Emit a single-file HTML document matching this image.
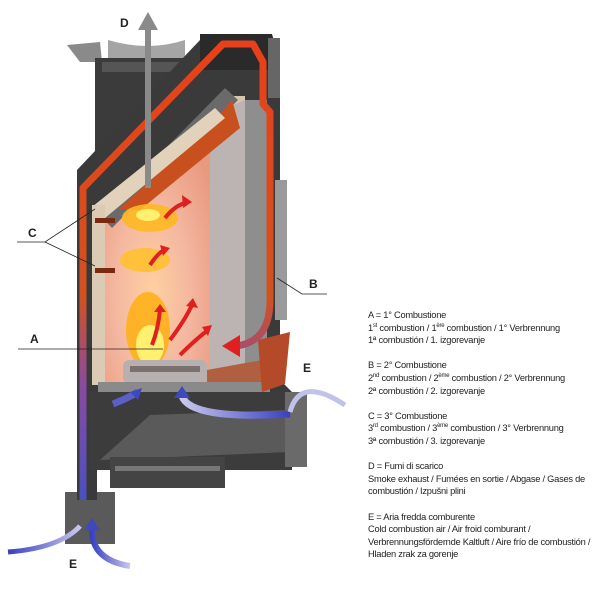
<!DOCTYPE html>
<html><head><meta charset="utf-8"><style>
html,body{margin:0;padding:0;background:#fff;width:600px;height:600px;overflow:hidden}
svg{position:absolute;left:0;top:0}
.lg{position:absolute;left:368px;top:309px;font-family:"Liberation Sans",sans-serif;font-size:9.3px;line-height:12.6px;color:#222;letter-spacing:-0.25px;white-space:nowrap}
.lg p{margin:0 0 12.6px 0}
sup{font-size:6px;line-height:0}
</style></head><body>
<svg width="600" height="600" viewBox="0 0 600 600">
<defs>
<linearGradient id="rb" x1="0" y1="0" x2="0" y2="1">
<stop offset="0" stop-color="#e8401a"/><stop offset="0.55" stop-color="#d2521e"/><stop offset="0.75" stop-color="#8a4aa0"/><stop offset="1" stop-color="#4a50c0"/></linearGradient>
<radialGradient id="glow" cx="0.45" cy="0.65" r="0.7"><stop offset="0" stop-color="#ffd0a0"/><stop offset="0.5" stop-color="#f4b8a0"/><stop offset="1" stop-color="#e89a80"/></radialGradient>
<linearGradient id="bl" x1="0" y1="0" x2="1" y2="0"><stop offset="0" stop-color="#3a40c0"/><stop offset="1" stop-color="#c8c8ec"/></linearGradient>
<linearGradient id="bl2" x1="1" y1="0" x2="0" y2="0"><stop offset="0" stop-color="#3a40c0"/><stop offset="1" stop-color="#c8c8ec"/></linearGradient>
</defs>
<polygon points="67,45 100,42 102,62 80,62" fill="#8a8a8a"/>
<path d="M108,40 Q148,52 185,40 L185,62 L108,62 Z" fill="#a5a5a5"/>
<rect x="95" y="58" width="95" height="112" fill="#3b3b3b"/>
<rect x="102" y="62" width="80" height="10" fill="#555"/>
<polygon points="77,170 200,40 272,34 280,60 280,380 292,392 292,470 77,470" fill="#3a3a3a"/>
<rect x="200" y="34" width="72" height="36" fill="#2a2a2a"/>
<rect x="268" y="38" width="12" height="60" fill="#666"/>
<rect x="275" y="180" width="12" height="140" fill="#9a9a9a"/>
<polygon points="92,207 233,96 245,96 245,384 92,384" fill="#d9c4ae"/>
<polygon points="105,215 210,130 210,384 105,384" fill="url(#glow)"/>
<polygon points="210,115 245,100 245,384 210,384" fill="#bcb4b2"/>
<rect x="245" y="100" width="22" height="284" fill="#8e8e8e"/>
<polygon points="100,215 225,88 238,100 112,228" fill="#6a6a6a"/>
<polygon points="118,210 215,120 232,100 240,128 140,210" fill="#c8501e"/>
<polygon points="92,207 215,108 225,118 105,218" fill="#e2d2bc"/>
<rect x="92" y="205" width="13" height="180" fill="#dccbb4"/>
<ellipse cx="150" cy="218" rx="28" ry="14" fill="#ffb820" opacity="0.9"/>
<ellipse cx="145" cy="260" rx="25" ry="12" fill="#ffc030" opacity="0.9"/>
<ellipse cx="148" cy="330" rx="22" ry="38" fill="#ffb01a" opacity="0.9"/>
<ellipse cx="150" cy="345" rx="14" ry="20" fill="#fff070"/>
<ellipse cx="148" cy="215" rx="12" ry="6" fill="#fff070"/>
<rect x="95" y="218" width="20" height="5" fill="#7a2a10"/>
<rect x="95" y="268" width="20" height="5" fill="#7a2a10"/>
<g stroke="#e02020" stroke-width="4" fill="none">
<path d="M165,218 Q175,205 188,202"/><path d="M150,265 Q160,250 166,250"/>
<path d="M152,345 Q158,330 160,310"/><path d="M170,340 Q185,320 192,305"/><path d="M180,355 Q195,340 208,330"/>
</g>
<g fill="#e02020"><polygon points="192,202 182,195 183,208"/><polygon points="170,248 160,245 163,256"/><polygon points="160,304 154,312 166,312"/><polygon points="193,298 186,306 198,308"/><polygon points="212,325 202,327 208,336"/></g>
<rect x="123" y="360" width="84" height="24" rx="6" fill="#b8b0b0"/>
<rect x="130" y="366" width="70" height="6" fill="#7a7070"/>
<polygon points="207,370 262,360 262,384 207,384" fill="#b06040"/>
<rect x="98" y="382" width="172" height="10" fill="#8a8a8a"/>
<polygon points="258,340 290,332 285,384 262,392" fill="#b44a28"/>
<rect x="90" y="392" width="200" height="78" fill="#3c3c3c"/>
<polygon points="150,415 290,410 290,452 100,460" fill="#5a5a5a"/>
<rect x="110" y="457" width="115" height="31" fill="#444"/>
<rect x="115" y="466" width="105" height="5" fill="#777"/>
<rect x="285" y="392" width="22" height="75" fill="#6a6a6a"/>
<rect x="65" y="492" width="50" height="52" fill="#5a5a5a"/>
<rect x="77" y="470" width="20" height="30" fill="#3a3a3a"/>
<path d="M83,500 L83,188 L223,44 L253,44 L263,62 L263,104 L270,112 L270,300 Q270,342 236,346" stroke="url(#rb)" stroke-width="7" fill="none" stroke-linejoin="round"/>
<polygon points="222,346 240,335 240,357" fill="#e02020"/>
<rect x="145" y="28" width="6" height="160" fill="#8a8a8a"/>
<polygon points="148,12 138,30 158,30" fill="#8a8a8a"/>
<g fill="none" stroke-width="7">
<path d="M113,404 Q128,398 138,392" stroke="#5a60c8"/>
<path d="M290,414 Q190,420 182,396" stroke="url(#bl2)"/>
<path d="M290,412 Q300,375 345,405" stroke="#c0c2ea" stroke-width="5"/>
<path d="M8,552 Q60,548 80,526" stroke="url(#bl)" stroke-width="5"/>
<path d="M130,566 Q92,560 92,530" stroke="url(#bl)" stroke-width="6"/>
</g>
<polygon points="142,388 130,392 138,400" fill="#4048c0"/>
<polygon points="182,386 174,398 190,398" fill="#4048c0"/>
<polygon points="92,518 84,530 100,530" fill="#4048c0"/>
<g stroke="#222" stroke-width="0.8" fill="none">
<path d="M17,242 L45,242 L95,209 M45,242 L95,266"/>
<path d="M277,278 L302,294 L327,294"/>
<path d="M18,349 L163,349"/>
</g>
<g font-family="Liberation Sans,sans-serif" font-size="12" font-weight="bold" fill="#222">
<text x="120" y="27">D</text><text x="28" y="237">C</text><text x="309" y="288">B</text>
<text x="30" y="343">A</text><text x="303" y="372">E</text><text x="69" y="568">E</text>
</g>
</svg>
<div class="lg">
<p>A = 1° Combustione<br>1<sup>st</sup> combustion / 1<sup>ère</sup> combustion / 1° Verbrennung<br>1ª combustión / 1. izgorevanje</p>
<p>B = 2° Combustione<br>2<sup>nd</sup> combustion / 2<sup>ème</sup> combustion / 2° Verbrennung<br>2ª combustión / 2. izgorevanje</p>
<p>C = 3° Combustione<br>3<sup>rd</sup> combustion / 3<sup>ème</sup> combustion / 3° Verbrennung<br>3ª combustión / 3. izgorevanje</p>
<p>D = Fumi di scarico<br>Smoke exhaust / Fumées en sortie / Abgase / Gases de<br>combustión / Izpušni plini</p>
<p>E = Aria fredda comburente<br>Cold combustion air / Air froid comburant /<br>Verbrennungsfördernde Kaltluft / Aire frío de combustión /<br>Hladen zrak za gorenje</p>
</div>
</body></html>
